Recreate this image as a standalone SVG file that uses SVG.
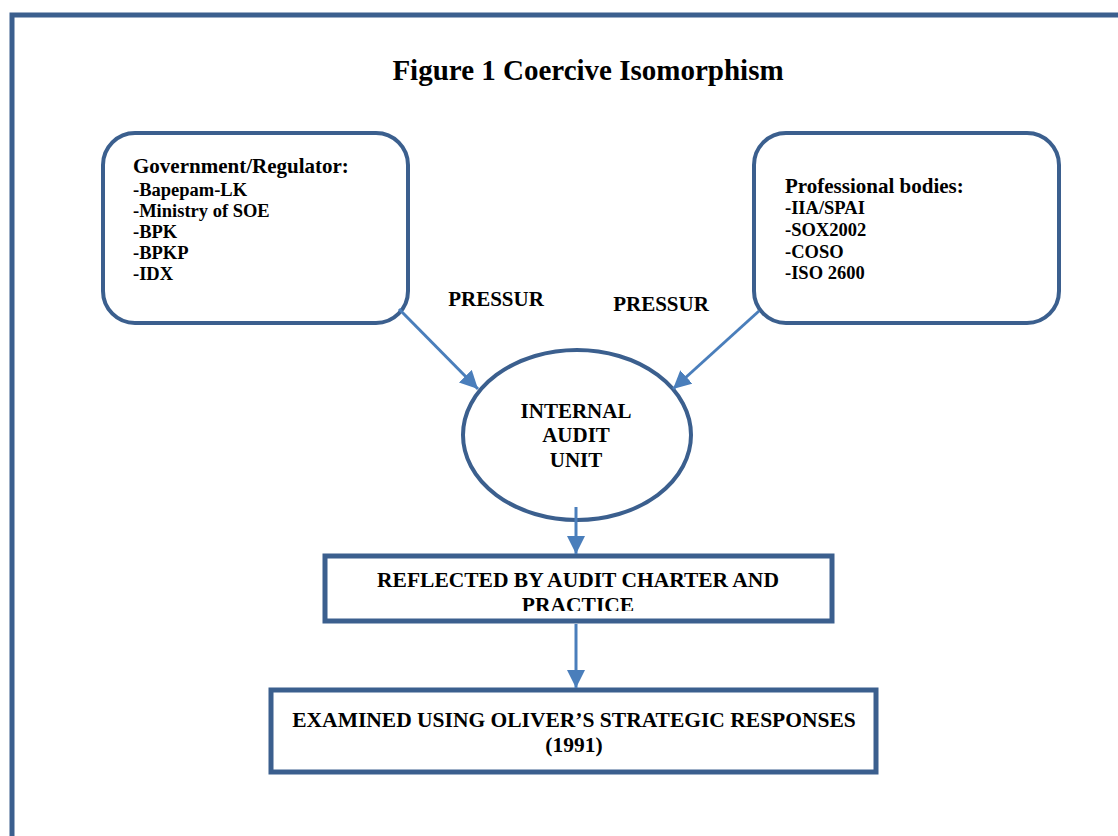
<svg xmlns="http://www.w3.org/2000/svg" width="1118" height="836" viewBox="0 0 1118 836">
<style>
.t{font-family:"Liberation Serif","Times New Roman",serif;font-weight:bold;fill:#000}
.node{fill:#fff;stroke:#3b5f8e}
.conn{stroke:#4a7ebb;stroke-width:3;fill:none}
</style>
<defs>
<marker id="ah" markerUnits="userSpaceOnUse" markerWidth="20" markerHeight="20" refX="18" refY="9" orient="auto">
<path d="M0,0 L18,9 L0,18 Z" fill="#4a7ebb"/>
</marker>
<clipPath id="clipR"><rect x="326" y="556" width="504" height="55"/></clipPath>
</defs>
<rect width="1118" height="836" fill="#fff"/>
<g id="frame" fill="none" stroke="#3b5f8e" stroke-width="5">
<path d="M12,836 L12,15 L1118,15"/>
</g>
<text class="t" x="588" y="80" font-size="29" text-anchor="middle">Figure 1 Coercive Isomorphism</text>
<g id="gov">
<rect class="node" x="103" y="133" width="305" height="190" rx="32" stroke-width="4"/>
<text class="t" x="133" y="173" font-size="21">Government/Regulator:</text>
<text class="t" font-size="18.5"><tspan x="133" y="196">-Bapepam-LK</tspan><tspan x="133" y="217">-Ministry of SOE</tspan><tspan x="133" y="238">-BPK</tspan><tspan x="133" y="259">-BPKP</tspan><tspan x="133" y="280">-IDX</tspan></text>
</g>
<g id="prof">
<rect class="node" x="754" y="133" width="305" height="190" rx="32" stroke-width="4"/>
<text class="t" x="785" y="193" font-size="21">Professional bodies:</text>
<text class="t" font-size="18.5"><tspan x="785" y="214">-IIA/SPAI</tspan><tspan x="785" y="236">-SOX2002</tspan><tspan x="785" y="258">-COSO</tspan><tspan x="785" y="279">-ISO 2600</tspan></text>
</g>
<g id="labels">
<text class="t" x="496" y="306" font-size="21" text-anchor="middle">PRESSUR</text>
<text class="t" x="661" y="311" font-size="21" text-anchor="middle">PRESSUR</text>
</g>
<g id="iau">
<ellipse class="node" cx="577" cy="435" rx="114" ry="85" stroke-width="4"/>
<text class="t" font-size="21" text-anchor="middle"><tspan x="576" y="418">INTERNAL</tspan><tspan x="576" y="442">AUDIT</tspan><tspan x="576" y="467">UNIT</tspan></text>
</g>
<g id="reflected">
<rect class="node" x="325" y="556" width="507" height="65" stroke-width="5"/>
<g clip-path="url(#clipR)">
<text class="t" font-size="21.5" text-anchor="middle"><tspan x="578" y="587">REFLECTED BY AUDIT CHARTER AND</tspan><tspan x="578" y="612">PRACTICE</tspan></text>
</g>
</g>
<g id="examined">
<rect class="node" x="271" y="690" width="605" height="82" stroke-width="5"/>
<text class="t" font-size="21.5" text-anchor="middle"><tspan x="574" y="727">EXAMINED USING OLIVER’S STRATEGIC RESPONSES</tspan><tspan x="574" y="752">(1991)</tspan></text>
</g>
<g id="connectors">
<line class="conn" x1="399" y1="309" x2="478" y2="389" marker-end="url(#ah)"/>
<line class="conn" x1="759" y1="311" x2="673" y2="389" marker-end="url(#ah)"/>
<line class="conn" x1="576" y1="507" x2="576" y2="554" marker-end="url(#ah)"/>
<line class="conn" x1="576" y1="624" x2="576" y2="688" marker-end="url(#ah)"/>
</g>
</svg>
